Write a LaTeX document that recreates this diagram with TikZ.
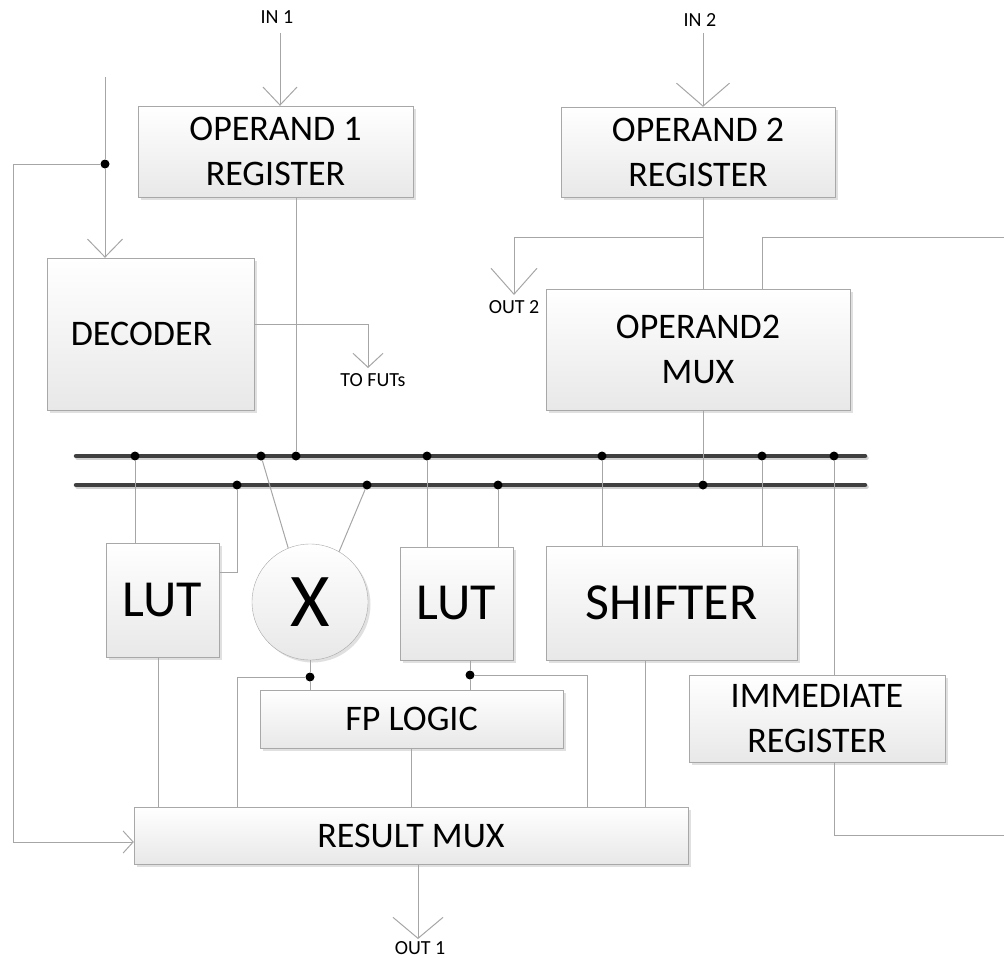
\documentclass[tikz,border=0pt]{standalone}
\usepackage{fontspec}
\setmainfont{Carlito}
\usetikzlibrary{arrows.meta,shadows}
\definecolor{wirecol}{HTML}{A6A6A6}
\definecolor{boxedge}{HTML}{A8A8A8}
\definecolor{boxfill}{HTML}{E8E8E8}
\definecolor{buscol}{HTML}{404040}

\begin{document}
\begin{tikzpicture}[x=1pt, y=-1pt,
    box/.style={draw=boxedge, top color=white, bottom color=boxfill, inner sep=0pt, align=center,
        font=\fontsize{36}{45}\selectfont,
        drop shadow={shadow xshift=2.5pt, shadow yshift=-2.5pt, fill=black!35, opacity=0.35}},
    bigbox/.style={box, font=\fontsize{52}{60}\selectfont},
    lbl/.style={font=\fontsize{20}{22}\selectfont, inner sep=0pt},
    wire/.style={draw=wirecol, line width=1pt},
    vee/.style 2 args={wire, -{Straight Barb[length=#1pt, width=#2pt]}},
    bus/.style={draw=buscol, line width=4.5pt, line cap=round},
    busshade/.style={draw=black!18, line width=4.5pt, line cap=round},
    dot/.style={circle, fill=black, inner sep=0pt, minimum size=9pt}
]
\useasboundingbox (0,0) rectangle (1004,958);

% blocks
\node[box, minimum width=275pt, minimum height=91pt] (op1reg) at (275.5,151.5) {OPERAND 1\\REGISTER};
\node[box, minimum width=274pt, minimum height=90pt] (op2reg) at (698,152) {OPERAND 2\\REGISTER};
\node[box, minimum width=207pt, minimum height=152pt] (decoder) at (150.5,334) {DECODER\hspace*{18pt}};
\node[box, minimum width=304pt, minimum height=121pt] (op2mux) at (698,349.5) {OPERAND2\\MUX};
\node[bigbox, minimum width=113pt, minimum height=114pt] (lut1) at (162.5,600) {LUT};
\node[box, circle, minimum size=116pt, font=\fontsize{76}{80}\selectfont] (xmul) at (310,602) {X};
\node[bigbox, minimum width=113pt, minimum height=113pt] (lut2) at (456.5,603.5) {LUT};
\node[bigbox, minimum width=251pt, minimum height=114pt] (shifter) at (671.5,603) {SHIFTER};
\node[box, minimum width=303pt, minimum height=58pt] (fplogic) at (411.5,719) {FP LOGIC};
\node[box, minimum width=256pt, minimum height=87pt] (immreg) at (817,718.5) {IMMEDIATE\\REGISTER};
\node[box, minimum width=554pt, minimum height=57pt] (resmux) at (411,835.5) {RESULT MUX};

% texts
\node[lbl] (in1) at (277,17) {IN 1};
\node[lbl] (in2) at (700,20) {IN 2};
\node[lbl] (out2) at (514,307) {OUT 2};
\node[lbl] (tofut) at (373,380) {TO FUTs};
\node[lbl] (out1) at (420,948) {OUT 1};

% free ends
\coordinate (in1end) at (280,33);
\coordinate (in2end) at (703,33);
\coordinate (ctltop) at (105,77);
\coordinate (fbl) at (13,842);
\coordinate (fut) at (368,368);
\coordinate (o2) at (514,295);
\coordinate (o1) at (418,939);
\coordinate (j2) at (703,237);
\coordinate (rin) at (1004,237);
\coordinate (rout) at (1004,835);
\coordinate (fpr) at (587,675);
\coordinate (bus1w) at (76,456);
\coordinate (bus1e) at (865,456);
\coordinate (bus2w) at (76,485);
\coordinate (bus2e) at (865,485);

% buses
\draw[busshade] ([shift={(1.5pt,-2pt)}]bus1w) -- ([shift={(1.5pt,-2pt)}]bus1e);
\draw[busshade] ([shift={(1.5pt,-2pt)}]bus2w) -- ([shift={(1.5pt,-2pt)}]bus2e);
\draw[bus] (bus1w) -- (bus1e);
\draw[bus] (bus2w) -- (bus2e);

% junctions
\node[dot] (b1a) at (135,456) {};
\node[dot] (b1b) at (261,456) {};
\node[dot] (b1c) at (296,456) {};
\node[dot] (b1d) at (427,456) {};
\node[dot] (b1e) at (602,456) {};
\node[dot] (b1f) at (762,456) {};
\node[dot] (b1g) at (834,456) {};
\node[dot] (b2a) at (237,485) {};
\node[dot] (b2b) at (367,485) {};
\node[dot] (b2c) at (498,485) {};
\node[dot] (b2d) at (703,485) {};
\node[dot] (ctl) at (105,164) {};
\node[dot] (jx) at (310,677) {};
\node[dot] (jl) at (470,675) {};

% inputs and control
\draw[vee={18}{34}] (in1end) -- (in1end |- op1reg.north);
\draw[vee={23}{53}] (in2end) -- (in2end |- op2reg.north);
\draw[wire] (ctltop) -- (ctl);
\draw[vee={18}{35}] (ctl) -- (ctl |- decoder.north);
\draw[vee={10}{22}] (ctl) -| (fbl) -- (fbl -| resmux.west);
\draw[vee={14}{30}] ([yshift=10pt]decoder.east) -| (fut);

% operand paths
\draw[wire] (op1reg.south -| b1c) -- (b1c);
\draw[wire] (op2reg.south -| j2) -- (op2mux.north -| j2);
\draw[vee={26}{46}] (j2) -| (o2);
\draw[wire] (op2mux.north -| b1f) |- (rin);
\draw[wire] (op2mux.south -| b2d) -- (b2d);

% units
\draw[wire] (b1a) -- (b1a |- lut1.north);
\draw[wire] (b2a) |- ([yshift=28pt]lut1.east);
\draw[wire] (b1b) -- (xmul.112);
\draw[wire] (b2b) -- (xmul.60);
\draw[wire] (b1d) -- (b1d |- lut2.north);
\draw[wire] (b2c) -- (b2c |- lut2.north);
\draw[wire] (b1e) -- (b1e |- shifter.north);
\draw[wire] (b1f) -- (b1f |- shifter.north);
\draw[wire] (b1g) -- (b1g |- immreg.north);

% to result mux
\draw[wire] ([xshift=-4.5pt]lut1.south) -- ([xshift=-4.5pt]lut1.south |- resmux.north);
\draw[wire] (xmul.south) -- (jx) -- (jx |- fplogic.north);
\draw[wire] (jx) -| (b2a |- resmux.north);
\draw[wire] (jl |- lut2.south) -- (jl) -- (jl |- fplogic.north);
\draw[wire] (jl) -- (fpr) -- (fpr |- resmux.north);
\draw[wire] (fplogic.south) -- (fplogic.south |- resmux.north);
\draw[wire] ([xshift=-26.5pt]shifter.south) -- ([xshift=-26.5pt]shifter.south |- resmux.north);
\draw[wire] (immreg.south -| b1g) |- (rout);
\draw[vee={21}{50}] (resmux.south -| o1) -- (o1);
\end{tikzpicture}
\end{document}
